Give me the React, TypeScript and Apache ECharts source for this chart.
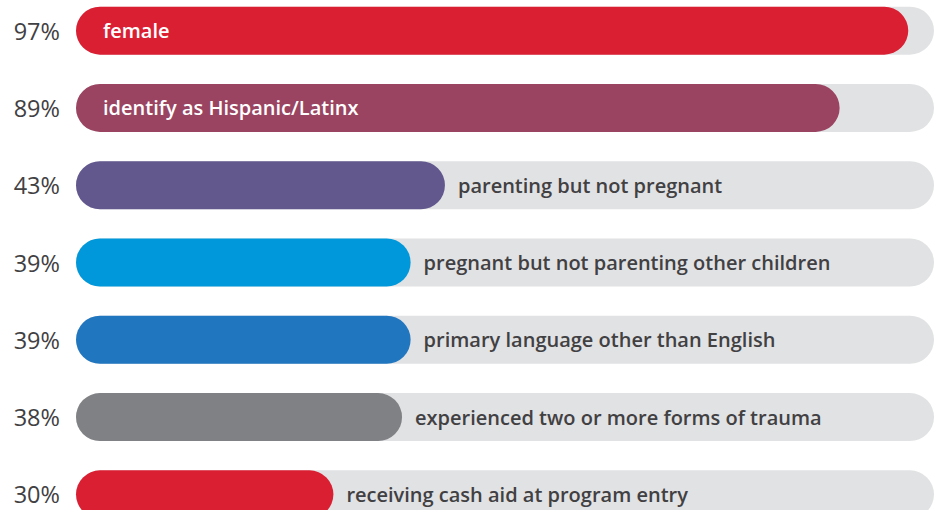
import React, { useEffect, useRef } from "react";
import * as echarts from "echarts";

const categories = [
  "female",
  "identify as Hispanic/Latinx",
  "parenting but not pregnant",
  "pregnant but not parenting other children",
  "primary language other than English",
  "experienced two or more forms of trauma",
  "receiving cash aid at program entry",
];
const values = [97, 89, 43, 39, 39, 38, 30];
const colors = ["#DA1F33", "#9A4461", "#62588E", "#0098DA", "#2176C0", "#808184", "#DA1F33"];
const insideThreshold = 60;

export default function App() {
  const ref = useRef<HTMLDivElement>(null);
  useEffect(() => {
    if (!ref.current) return;
    document.body.style.overflow = "hidden";
    const chart = echarts.init(ref.current, undefined, { renderer: "svg" });
    const font = "'Open Sans', sans-serif";
    chart.setOption({
      animation: false,
      grid: { left: 76, right: 0, top: 0, bottom: 0, containLabel: false },
      xAxis: { type: "value", min: 0, max: 100, show: false },
      yAxis: {
        type: "category",
        inverse: true,
        data: categories,
        axisLine: { show: false },
        axisTick: { show: false },
        splitLine: { show: false },
        axisLabel: {
          margin: 16,
          fontFamily: font,
          fontSize: 23.5,
          color: "#414042",
          formatter: (_v: string, i: number) => values[i] + "%",
        },
      },
      series: [
        {
          type: "bar",
          barWidth: 48,
          showBackground: true,
          backgroundStyle: { color: "#E1E2E4", borderRadius: 24 },
          data: values.map((v, i) => ({
            value: v,
            itemStyle: { color: colors[i], borderRadius: 24 },
            label: {
              show: true,
              formatter: categories[i],
              position: v > insideThreshold ? "insideLeft" : "right",
              distance: v > insideThreshold ? 27 : 13,
              color: v > insideThreshold ? "#ffffff" : "#414042",
              fontFamily: font,
              fontWeight: 600,
              fontSize: 20,
            },
          })),
        },
      ],
    });
    return () => chart.dispose();
  }, []);
  return (
    <div
      ref={ref}
      style={{ position: "absolute", left: 0, top: -8, width: 934, height: 541, background: "#fff" }}
    />
  );
}
